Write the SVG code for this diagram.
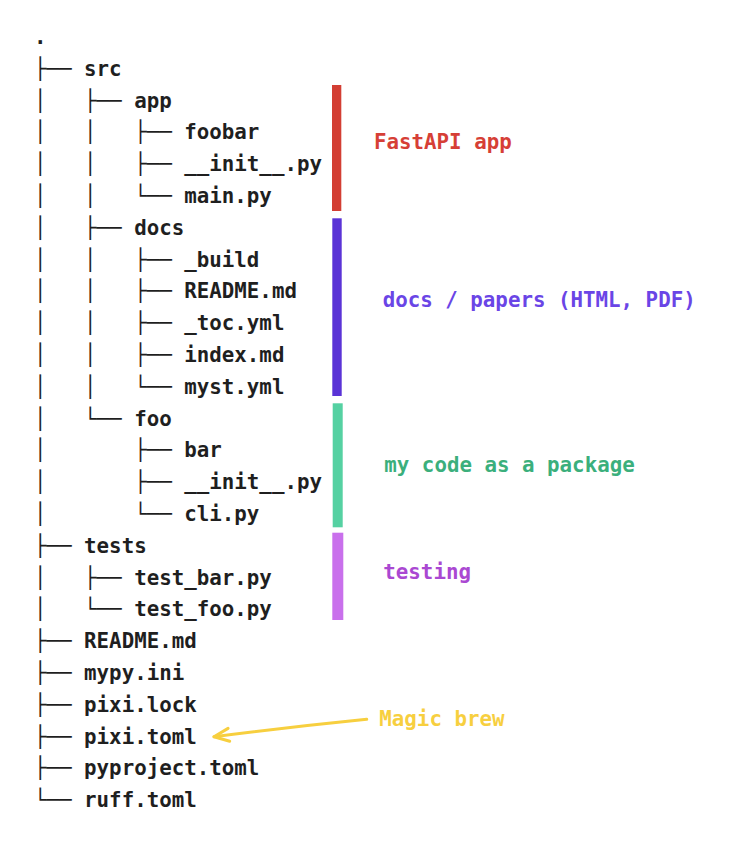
<svg xmlns="http://www.w3.org/2000/svg" width="750" height="853" viewBox="0 0 750 853">
<style>
.t{font-family:"DejaVu Sans Mono","Liberation Mono",monospace;font-size:20.8px;font-weight:bold;fill:#1f1f1f;white-space:pre}
.l{font-family:"DejaVu Sans Mono","Liberation Mono",monospace;font-size:20.8px;font-weight:bold;white-space:pre}
</style>
<defs>
<marker id="ah" viewBox="0 0 20 20" refX="17" refY="10" markerWidth="20" markerHeight="20" markerUnits="userSpaceOnUse" orient="auto">
<path d="M2 3.5 L17 10 L2 16.5" fill="none" stroke="#F7CF3F" stroke-width="3" stroke-linecap="round" stroke-linejoin="round"/>
</marker>
</defs>
<rect width="750" height="853" fill="#ffffff"/>
<g id="tree" transform="translate(0,2.5)">
<text class="t" x="34" y="41.5">.</text>
<text class="t" x="34" y="73.3">├── src</text>
<text class="t" x="34" y="105.1">│   ├── app</text>
<text class="t" x="34" y="136.9">│   │   ├── foobar</text>
<text class="t" x="34" y="168.7">│   │   ├── __init__.py</text>
<text class="t" x="34" y="200.5">│   │   └── main.py</text>
<text class="t" x="34" y="232.3">│   ├── docs</text>
<text class="t" x="34" y="264.1">│   │   ├── _build</text>
<text class="t" x="34" y="295.9">│   │   ├── README.md</text>
<text class="t" x="34" y="327.7">│   │   ├── _toc.yml</text>
<text class="t" x="34" y="359.5">│   │   ├── index.md</text>
<text class="t" x="34" y="391.3">│   │   └── myst.yml</text>
<text class="t" x="34" y="423.1">│   └── foo</text>
<text class="t" x="34" y="454.9">│       ├── bar</text>
<text class="t" x="34" y="486.7">│       ├── __init__.py</text>
<text class="t" x="34" y="518.5">│       └── cli.py</text>
<text class="t" x="34" y="550.3">├── tests</text>
<text class="t" x="34" y="582.1">│   ├── test_bar.py</text>
<text class="t" x="34" y="613.9">│   └── test_foo.py</text>
<text class="t" x="34" y="645.7">├── README.md</text>
<text class="t" x="34" y="677.5">├── mypy.ini</text>
<text class="t" x="34" y="709.3">├── pixi.lock</text>
<text class="t" x="34" y="741.1">├── pixi.toml</text>
<text class="t" x="34" y="772.9">├── pyproject.toml</text>
<text class="t" x="34" y="804.7">└── ruff.toml</text>
</g>
<g id="group-app">
<rect x="332" y="85" width="9.3" height="126" fill="#D33E33"/>
<text class="l" x="374" y="149.3" fill="#D63F36">FastAPI app</text>
</g>
<g id="group-docs">
<rect x="332.3" y="218.3" width="9.4" height="177.7" fill="#5A33D6"/>
<text class="l" x="382.7" y="306.5" fill="#6A45E6">docs / papers (HTML, PDF)</text>
</g>
<g id="group-foo">
<rect x="332.7" y="403.3" width="10" height="124" fill="#55D1A2"/>
<text class="l" x="384.3" y="471.7" fill="#3BAF7C">my code as a package</text>
</g>
<g id="group-tests">
<rect x="332.3" y="532.7" width="11" height="87.3" fill="#C970EC"/>
<text class="l" x="383.3" y="578.5" fill="#AA48D2">testing</text>
</g>
<g id="note-magic">
<text class="l" x="379.3" y="726" fill="#F7CF3F">Magic brew</text>
</g>
<g id="connectors">
<path d="M366.7 719.3 Q290 727 214 736.7" fill="none" stroke="#F7CF3F" stroke-width="3" stroke-linecap="round" marker-end="url(#ah)"/>
</g>
</svg>
